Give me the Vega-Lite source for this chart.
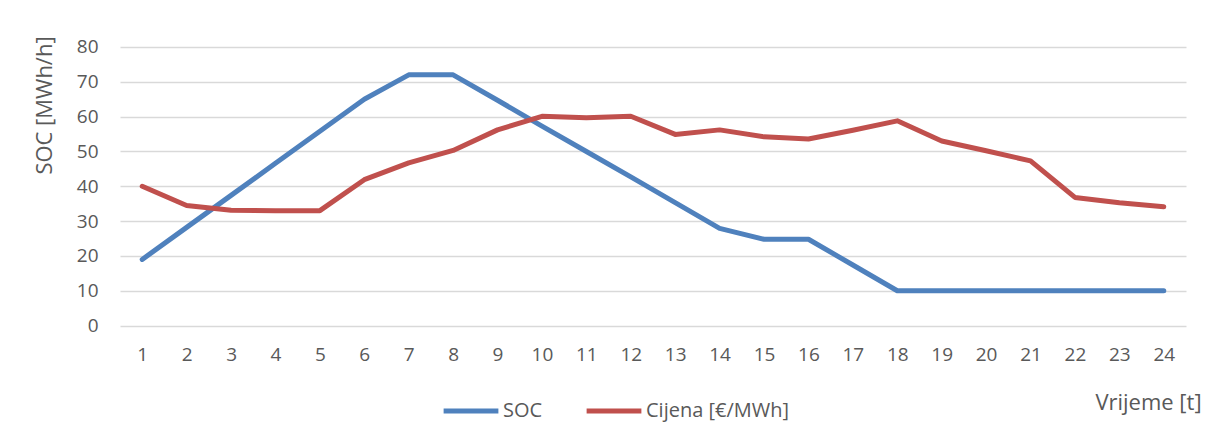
{
  "$schema": "https://vega.github.io/schema/vega-lite/v6.json",
  "width": 1066,
  "height": 278.6,
  "autosize": {"type": "none"},
  "padding": {"left": 120, "top": 47, "right": 20, "bottom": 117},
  "background": "white",
  "config": {
    "view": {"stroke": null},
    "font": "Open Sans",
    "axis": {"labelColor": "#595959", "titleColor": "#595959", "labelFont": "Open Sans", "titleFont": "Open Sans", "titleFontWeight": "normal"}
  },
  "data": {
    "values": [
      {"t": 1, "serija": "SOC", "v": 19}, {"t": 2, "serija": "SOC", "v": 28.2}, {"t": 3, "serija": "SOC", "v": 37.4}, {"t": 4, "serija": "SOC", "v": 46.6}, {"t": 5, "serija": "SOC", "v": 55.8}, {"t": 6, "serija": "SOC", "v": 65}, {"t": 7, "serija": "SOC", "v": 72}, {"t": 8, "serija": "SOC", "v": 72}, {"t": 9, "serija": "SOC", "v": 64.7}, {"t": 10, "serija": "SOC", "v": 57.3}, {"t": 11, "serija": "SOC", "v": 50}, {"t": 12, "serija": "SOC", "v": 42.7}, {"t": 13, "serija": "SOC", "v": 35.3}, {"t": 14, "serija": "SOC", "v": 27.9}, {"t": 15, "serija": "SOC", "v": 24.8}, {"t": 16, "serija": "SOC", "v": 24.8}, {"t": 17, "serija": "SOC", "v": 17.4}, {"t": 18, "serija": "SOC", "v": 10}, {"t": 19, "serija": "SOC", "v": 10}, {"t": 20, "serija": "SOC", "v": 10}, {"t": 21, "serija": "SOC", "v": 10}, {"t": 22, "serija": "SOC", "v": 10}, {"t": 23, "serija": "SOC", "v": 10}, {"t": 24, "serija": "SOC", "v": 10},
      {"t": 1, "serija": "Cijena [€/MWh]", "v": 40}, {"t": 2, "serija": "Cijena [€/MWh]", "v": 34.5}, {"t": 3, "serija": "Cijena [€/MWh]", "v": 33.1}, {"t": 4, "serija": "Cijena [€/MWh]", "v": 33}, {"t": 5, "serija": "Cijena [€/MWh]", "v": 33}, {"t": 6, "serija": "Cijena [€/MWh]", "v": 41.9}, {"t": 7, "serija": "Cijena [€/MWh]", "v": 46.7}, {"t": 8, "serija": "Cijena [€/MWh]", "v": 50.3}, {"t": 9, "serija": "Cijena [€/MWh]", "v": 56.2}, {"t": 10, "serija": "Cijena [€/MWh]", "v": 60.1}, {"t": 11, "serija": "Cijena [€/MWh]", "v": 59.7}, {"t": 12, "serija": "Cijena [€/MWh]", "v": 60.1}, {"t": 13, "serija": "Cijena [€/MWh]", "v": 54.9}, {"t": 14, "serija": "Cijena [€/MWh]", "v": 56.2}, {"t": 15, "serija": "Cijena [€/MWh]", "v": 54.2}, {"t": 16, "serija": "Cijena [€/MWh]", "v": 53.6}, {"t": 17, "serija": "Cijena [€/MWh]", "v": 56.1}, {"t": 18, "serija": "Cijena [€/MWh]", "v": 58.8}, {"t": 19, "serija": "Cijena [€/MWh]", "v": 53}, {"t": 20, "serija": "Cijena [€/MWh]", "v": 50.2}, {"t": 21, "serija": "Cijena [€/MWh]", "v": 47.3}, {"t": 22, "serija": "Cijena [€/MWh]", "v": 36.8}, {"t": 23, "serija": "Cijena [€/MWh]", "v": 35.3}, {"t": 24, "serija": "Cijena [€/MWh]", "v": 34.1}
    ]
  },
  "mark": {"type": "line", "strokeWidth": 5, "strokeCap": "round", "strokeJoin": "round"},
  "encoding": {
    "x": {
      "field": "t", "type": "ordinal",
      "scale": {"type": "point", "padding": 0.5},
      "axis": {
        "title": "Vrijeme [t]", "titleFontSize": 22, "titleAlign": "center", "titleBaseline": "middle", "titleX": 1028, "titleY": 77,
        "labelAngle": 0, "labelFontSize": 19, "labelPadding": 20, "ticks": false, "domain": false, "grid": false
      }
    },
    "y": {
      "field": "v", "type": "quantitative",
      "scale": {"domain": [0, 80], "nice": false},
      "axis": {
        "title": "SOC [MWh/h]", "titleFontSize": 22, "titleAngle": -90, "titleAlign": "center", "titleBaseline": "middle", "titleX": -76, "titleY": 58,
        "values": [0, 10, 20, 30, 40, 50, 60, 70, 80], "labelFontSize": 19, "labelPadding": 22, "ticks": false, "domain": false,
        "grid": true, "gridColor": "#d9d9d9", "gridWidth": 1.5
      }
    },
    "color": {
      "field": "serija", "type": "nominal",
      "scale": {"domain": ["SOC", "Cijena [€/MWh]"], "range": ["#4F81BD", "#C0504D"]},
      "legend": {
        "title": null, "orient": "none", "direction": "horizontal", "legendX": 321, "legendY": 334,
        "symbolType": "stroke", "symbolSize": 3000, "symbolStrokeWidth": 5, "labelFontSize": 20, "labelColor": "#595959", "labelFont": "Open Sans", "labelOffset": 2, "columnPadding": 33
      }
    }
  }
}
